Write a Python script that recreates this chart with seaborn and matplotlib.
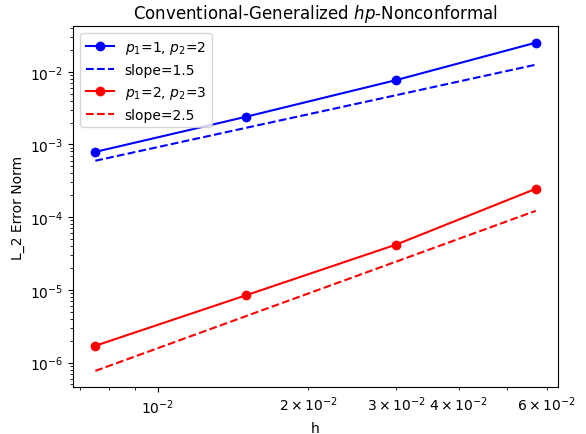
import matplotlib
matplotlib.use("Agg")
import matplotlib.pyplot as plt
import seaborn as sns
import pandas as pd

h = [0.0075, 0.015, 0.03, 0.057]
err_p12 = [7.9e-4, 2.40e-3, 7.69e-3, 2.51e-2]
slope15 = [5.97e-4, 1.69e-3, 4.77e-3, 1.25e-2]
err_p23 = [1.70e-6, 8.4e-6, 4.2e-5, 2.45e-4]
slope25 = [7.67e-7, 4.34e-6, 2.45e-5, 1.22e-4]

fig = plt.figure(figsize=(5.86, 4.35), dpi=100)
left, right, bottom, top = 73.3 / 586, 557.7 / 586, 1 - 388.3 / 435, 1 - 27.3 / 435
ax = fig.add_axes([left, bottom, right - left, top - bottom])

sns.lineplot(x=h, y=err_p12, ax=ax, color="blue", marker="o", markersize=6,
             markeredgewidth=1, markeredgecolor="blue", label=r"$p_1$=1, $p_2$=2",
             linewidth=1.5, estimator=None, sort=False)
sns.lineplot(x=h, y=slope15, ax=ax, color="blue", linestyle="--",
             label="slope=1.5", linewidth=1.5, estimator=None, sort=False)
sns.lineplot(x=h, y=err_p23, ax=ax, color="red", marker="o", markersize=6,
             markeredgewidth=1, markeredgecolor="red", label=r"$p_1$=2, $p_2$=3",
             linewidth=1.5, estimator=None, sort=False)
sns.lineplot(x=h, y=slope25, ax=ax, color="red", linestyle="--",
             label="slope=2.5", linewidth=1.5, estimator=None, sort=False)

ax.set_xscale("log")
ax.set_yscale("log")
ax.set_xlabel("h")
ax.set_ylabel("L_2 Error Norm")
ax.set_title("Conventional-Generalized $hp$-Nonconformal")
ax.legend(loc="upper left")

fig.savefig("out.png", dpi=100)
